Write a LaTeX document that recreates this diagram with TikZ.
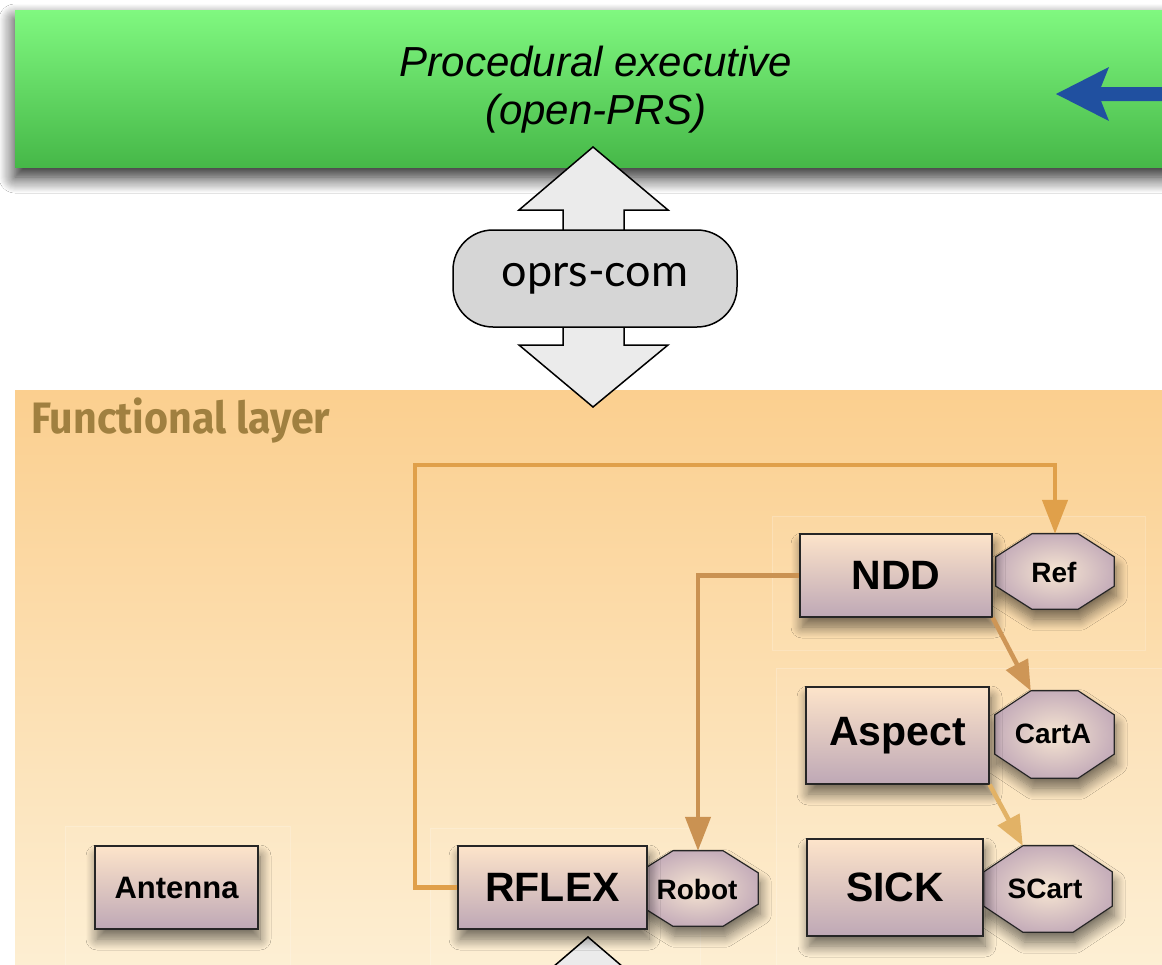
\documentclass[tikz,border=0pt]{standalone}
\usepackage{fontspec}
\usepackage{graphicx}
\setmainfont{Liberation Sans}
\newfontfamily\comfont{Lato}
\newfontfamily\layerfont{Fira Sans}
\usetikzlibrary{shadows.blur,arrows.meta,calc}

\definecolor{greentop}{RGB}{128,248,128}
\definecolor{greenbot}{RGB}{70,184,72}
\definecolor{paneltop}{RGB}{251,207,143}
\definecolor{panelbot}{RGB}{253,240,214}
\definecolor{layertext}{RGB}{160,128,64}
\definecolor{boxtop}{RGB}{253,228,202}
\definecolor{boxbot}{RGB}{190,168,182}
\definecolor{octin}{RGB}{247,230,210}
\definecolor{octout}{RGB}{198,174,186}
\definecolor{arrowblue}{RGB}{32,80,160}
\definecolor{dblfill}{RGB}{235,235,235}
\definecolor{comfill}{RGB}{214,214,214}
\definecolor{connA}{RGB}{224,160,74}
\definecolor{connB}{RGB}{202,146,82}
\definecolor{connC}{RGB}{206,150,86}
\definecolor{connD}{RGB}{226,178,102}

% octagon outline around a (text-free) node: #1 node, #2 horizontal chamfer, #3 vertical chamfer
\newcommand\octpath[3]{($(#1.north west)+(#2,0)$) -- ($(#1.north east)+(-#2,0)$)
  -- ($(#1.north east)+(0,#3)$) -- ($(#1.south east)+(0,-#3)$)
  -- ($(#1.south east)+(-#2,0)$) -- ($(#1.south west)+(#2,0)$)
  -- ($(#1.south west)+(0,-#3)$) -- ($(#1.north west)+(0,#3)$) -- cycle}

\begin{document}
\begin{tikzpicture}[x=1pt,y=-1pt,
  softshadow/.style={blur shadow={shadow xshift=2pt, shadow yshift=-10pt,
      shadow blur radius=11pt, shadow blur steps=12, shadow opacity=55}},
  module/.style={draw=black!85, line width=1.2pt, top color=boxtop, bottom color=boxbot,
      inner sep=0pt, softshadow, font=\bfseries\fontsize{41}{46}\selectfont},
  octbox/.style={inner sep=0pt, draw=none},
  octshape/.style={draw=black!85, line width=1.2pt, inner color=octin, outer color=octout, softshadow},
  octlabel/.style={inner sep=0pt, font=\bfseries\fontsize{28}{31}\selectfont},
  conn/.style={line width=4.5pt, -{Triangle[length=34pt,width=25pt]}},
  faint/.style={fill=white, fill opacity=0.06, draw=white, draw opacity=0.2, line width=1pt},
]
\useasboundingbox (0,0) rectangle (1162,964);
\clip (0,0) rectangle (1162,964);
\fill[white] (0,0) rectangle (1162,964);

% executive band
\path[top color=greentop, bottom color=greenbot,
  blur shadow={shadow xshift=0pt, shadow yshift=-10pt, shadow blur radius=16pt,
    shadow blur steps=16, shadow opacity=90}]
  (15,10) rectangle (1200,167);
\node[align=center, font=\itshape\fontsize{42}{48}\selectfont] (exec) at (596,90)
  {Procedural executive\\(open-PRS)};
\fill[arrowblue] (1170,87) -- (1101,87) -- (1109,67) -- (1056,94) -- (1109,121)
  -- (1101,101) -- (1170,101) -- cycle;

% functional layer panel
\path[top color=paneltop, bottom color=panelbot] (15,390) rectangle (1200,1000);
\node[anchor=base west, inner sep=0pt, text=layertext,
  font=\layerfont\bfseries\fontsize{44}{48}\selectfont] (fltitle) at (31,433)
  {\resizebox{299pt}{\height}{Functional layer}};

% faint grouping panes
\draw[faint] (772,516) rectangle (1145,650);
\draw[faint] (776,668) rectangle (1180,1000);
\draw[faint] (65,826) rectangle (290,1000);
\draw[faint] (430,828) rectangle (700,1000);

% communication double arrow
\draw[fill=dblfill, line width=1.5pt, line join=miter]
  (593,147) -- (668,210) -- (624,210) -- (624,345) -- (668,345) -- (593,407)
  -- (519,345) -- (563,345) -- (563,210) -- (519,210) -- cycle;
\node[draw, line width=1.5pt, fill=comfill, rounded corners=40pt,
  minimum width=284pt, minimum height=97pt, inner sep=0pt,
  font=\comfont\fontsize{45}{48}\selectfont] (com) at (595,278.5) {oprs-com};

% lower double arrow head
\draw[fill=dblfill, line width=1.5pt] (588,937) -- (644,985) -- (532,985) -- cycle;

% posters (octagons)
\node[octbox, minimum width=118pt, minimum height=75pt] (ref) at (1055,571.5) {};
\path[octshape] \octpath{ref}{36}{23};
\node[octlabel] (refL) at (1054,572) {Ref};

\node[octbox, minimum width=119pt, minimum height=87pt] (carta) at (1054.5,734.5) {};
\path[octshape] \octpath{carta}{36}{24};
\node[octlabel] (cartaL) at (1053,734) {CartA};

\node[octbox, minimum width=128pt, minimum height=86pt] (scart) at (1048,889) {};
\path[octshape] \octpath{scart}{39}{26};
\node[octlabel] (scartL) at (1045,889) {SCart};

\node[octbox, minimum width=120pt, minimum height=75pt] (robot) at (698,888.5) {};
\path[octshape] \octpath{robot}{35}{22};
\node[octlabel] (robotL) at (697,889) {Robot};

% modules
\node[module, minimum width=192pt, minimum height=83pt] (ndd) at (896,575.5) {NDD};
\node[module, minimum width=183pt, minimum height=97pt] (aspect) at (897.5,735.5) {Aspect};
\node[module, minimum width=176pt, minimum height=97pt] (sick) at (895,887.5) {SICK};
\node[module, minimum width=189pt, minimum height=83pt] (rflex) at (552.5,887.5) {RFLEX};
\node[module, minimum width=163pt, minimum height=83pt,
  font=\bfseries\fontsize{31}{34}\selectfont] (antenna) at (176.5,887.5) {Antenna};

% connections
\coordinate (loop) at (415,465);
\coordinate (cartaTL) at ($(carta.north west)+(36,0)$);
\coordinate (scartTL) at ($(scart.north west)+(39,0)$);
\draw[conn, connA] (rflex.west) -| (loop) -| (ref.north);
\draw[conn, connB] (ndd.west) -| (robot.north);
\draw[conn, connC, -{Triangle[length=30pt,width=24pt]}] (ndd.south east) -- (cartaTL);
\draw[conn, connD, -{Triangle[length=30pt,width=24pt]}] (aspect.south east) -- (scartTL);
\end{tikzpicture}
\end{document}
